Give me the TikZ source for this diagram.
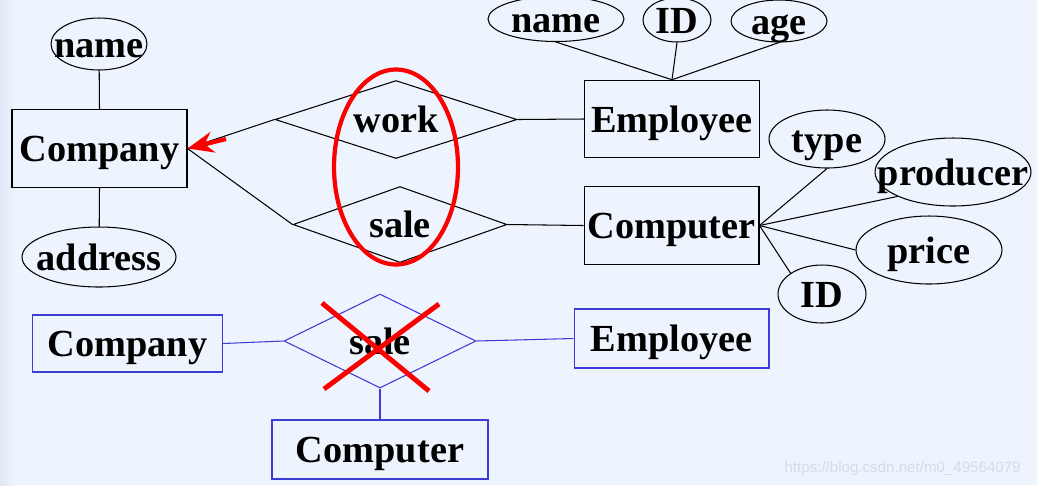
\documentclass[tikz,border=0pt]{standalone}
\usepackage{fontspec}
\setmainfont{Liberation Serif}
\setsansfont{Liberation Sans}
\usetikzlibrary{arrows.meta,shapes.geometric}

\definecolor{pagebg}{RGB}{238,244,253}
\definecolor{edgebg}{RGB}{222,231,244}
\definecolor{erblue}{RGB}{60,60,210}
\definecolor{markred}{RGB}{250,0,0}
\definecolor{wmark}{RGB}{214,220,230}

\begin{document}
\begin{tikzpicture}[x=0.02cm, y=-0.02cm, line width=0.6pt, >=Stealth,
    font=\bfseries\fontsize{21.8}{24}\selectfont,
    txt/.style={text height=20.7pt, text depth=5.5pt, inner sep=0pt},
    entity/.style={draw, txt, minimum width=3.5cm, minimum height=1.55cm},
    attr/.style={draw, ellipse, inner sep=0pt, label={[txt]center:#1}},
    rel/.style={draw, diamond, inner sep=0pt, label={[txt]center:#1}},
    ghost/.style={erblue, text=black},
    redmark/.style={markred, line width=2.4pt}]
  \fill[pagebg] (0,0) rectangle (1037,485);
  \shade[left color=edgebg, right color=pagebg] (0,0) rectangle (14,485);
  \useasboundingbox (0,0) rectangle (1037,485);

  % entities
  \node[entity] (company) at (99.5,148.5) {Company};
  \node[entity] (employee) at (672,119) {Employee};
  \node[entity] (computer) at (671.5,225.5) {Computer};

  % attributes
  \node[attr=name, minimum width=1.92cm, minimum height=1.04cm] (cname) at (99,44) {};
  \node[attr=address, minimum width=3.08cm, minimum height=1.2cm] (caddr) at (99,257) {};
  \node[attr=name, minimum width=2.72cm, minimum height=0.9cm] (ename) at (556,19) {};
  \node[attr=ID, minimum width=1.36cm, minimum height=0.88cm] (eid) at (677,20) {};
  \node[attr=age, minimum width=1.92cm, minimum height=0.84cm] (eage) at (779,21) {};
  \node[attr=type, minimum width=2.32cm, minimum height=1.16cm] (ptype) at (827,139) {};
  \node[attr=producer, minimum width=3.12cm, minimum height=1.36cm] (pprod) at (953,172) {};
  \node[attr=price, minimum width=2.92cm, minimum height=1.36cm] (pprice) at (929,250) {};
  \node[attr=ID, minimum width=1.76cm, minimum height=1.16cm] (pid) at (822,294) {};

  % relationships
  \node[rel=work, minimum width=4.84cm, minimum height=1.56cm] (work) at (396,119.5) {};
  \node[rel=sale, minimum width=4.28cm, minimum height=1.52cm] (sale) at (400,224.5) {};

  \draw (cname) -- (company.north);
  \draw (company.south) -- (caddr);
  \draw (ename.south) -- (employee.north);
  \draw (eid.south) -- (employee.north);
  \draw (eage.south) -- (employee.north);
  \draw (computer.east) -- (ptype.south);
  \draw (computer.east) -- (pprod.south west);
  \draw (computer.east) -- (pprice.west);
  \draw (computer.east) -- (pid.north west);
  \draw (company.east) -- (work.west);
  \draw (company.east) -- (sale.west);
  \draw (work.east) -- (employee.west);
  \draw (sale.east) -- (computer.west);

  % red marks
  \coordinate (tail) at (226,139);
  \draw[redmark, -{Stealth[length=0.52cm, width=0.42cm]}] (tail) -- (company.east);
  \draw[redmark] (396,167) ellipse [x radius=1.24cm, y radius=1.95cm];

  % wrong ternary sale
  \node[entity, ghost, minimum width=3.8cm, minimum height=1.14cm] (company2) at (127.5,343.5) {Company};
  \node[entity, ghost, minimum width=3.9cm, minimum height=1.18cm] (employee2) at (671.5,338.5) {Employee};
  \node[entity, ghost, minimum width=4.32cm, minimum height=1.18cm] (computer2) at (380,449.5) {Computer};
  \node[rel=sale, ghost, minimum width=3.84cm, minimum height=1.88cm] (sale2) at (380,341) {};
  \draw[erblue] (company2.east) -- (sale2.west);
  \draw[erblue] (sale2.east) -- (employee2.west);
  \draw[erblue] (sale2.south) -- (computer2.north);
  \draw[redmark, line width=2.8pt] (322,303) -- (429,391) (439,304) -- (324,389);

  \node[font=\sffamily\fontsize{8.6}{10}\selectfont, text=wmark, anchor=base east] (wm) at (1027,472) {https://blog.csdn.net/m0\_49564079};
\end{tikzpicture}
\end{document}
